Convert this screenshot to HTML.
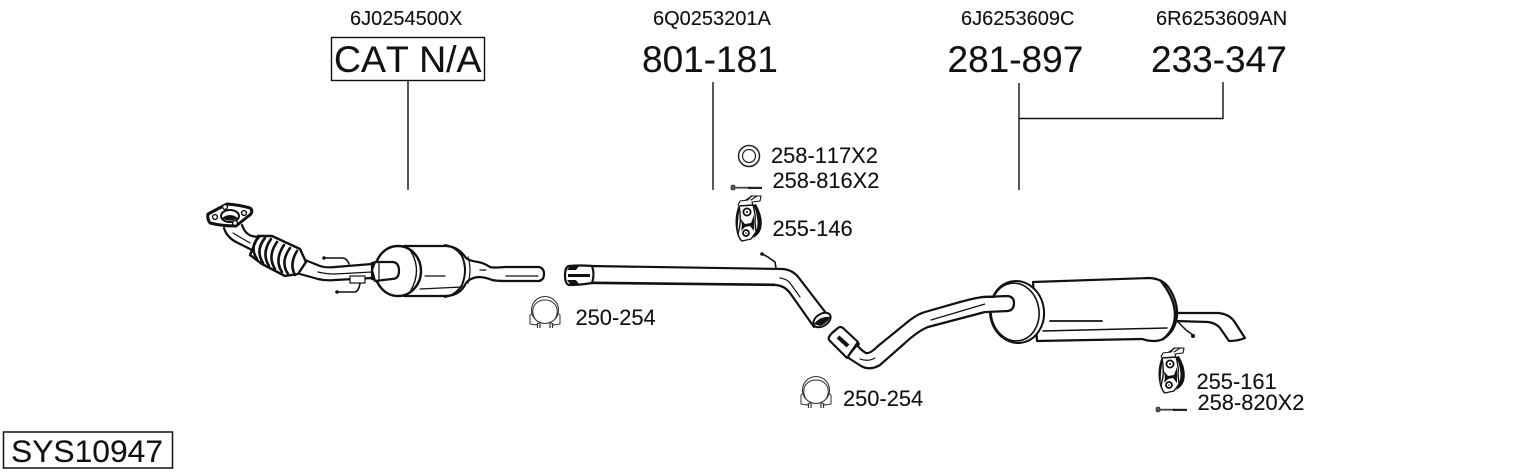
<!DOCTYPE html>
<html><head><meta charset="utf-8"><style>
html,body{margin:0;padding:0;background:#fff}
svg{display:block}
text{font-family:"Liberation Sans",sans-serif;fill:#111;font-kerning:none;stroke:#111;stroke-width:.12}
.l{font-size:20px}.b{font-size:37px}.m{font-size:21.850px}
.p{fill:none;stroke:#111;stroke-width:2.2;stroke-linecap:round;stroke-linejoin:round}
.t{fill:none;stroke:#111;stroke-width:1.2;stroke-linecap:round;stroke-linejoin:round}
.w{fill:#fff;stroke:#111;stroke-width:2.2;stroke-linejoin:round}
</style></head><body>
<svg width="1530" height="474" viewBox="0 0 1530 474" xmlns="http://www.w3.org/2000/svg">
<defs>
<g id="hanger">
<path class="t" d="M-10,-15 L-8,-19 L0,-20 L3,-24 L13,-24 L12,-19 L4,-18 L5,-14" style="stroke-width:1.1"/>
<path class="t" d="M-2,-20 L4,-24 M3,-20 L9,-24" style="stroke-width:1.1"/>
<path d="M-10,-13 Q-15,2 -10,17 Q-11,2 -8,-13Z" fill="#111"/>
<path d="M8,-16 Q16,-2 13,9 Q11,15 5,18 Q11,8 9,-2 Q8,-10 5,-15Z" fill="#111"/>
<path class="w" style="stroke-width:1.4" d="M-9,-14 L5,-15 Q8,-4 7,2 L8,12 L3,19 L-6,21 Q-9,19 -10,13 Q-6,2 -9,-14Z"/>
<path d="M-8,-2 L-3,4 L3,3 L6,-5 L6,11 L2,6 L-3,7 L-7,11 Q-5,4 -8,-2Z" fill="#111"/>
<circle cx="-1" cy="-8" r="3.600" fill="#fff" stroke="#111" stroke-width="1.800"/>
<circle cx="-1" cy="-8" r="1" fill="#111"/>
<circle cx="-2" cy="13" r="3" fill="#fff" stroke="#111" stroke-width="1.800"/>
<circle cx="-2" cy="13" r=".8" fill="#111"/>
</g>
<g id="clamp">
<circle cx="0" cy="-1" r="13.500" fill="none" stroke="#333" stroke-width="1.100"/>
<path class="t" d="M-10,8 Q-13.500,2 -11.500,-4 Q-8,-11 0,-11 Q8,-11 11.500,-4 Q13.500,2 10,8" style="stroke:#333;stroke-width:1"/>
<path class="t" d="M-12,2 L-15,4 L-15,13 L-9,14 L-5,11 M12,2 L15,4 L15,13 L9,14 L5,11" style="stroke:#333;stroke-width:1"/>
<path d="M-7.500,12 V17 M-5,12 V17 M5,12 V17 M7.500,12 V17" stroke="#333" stroke-width="1.200"/>
</g>
<g id="bolt">
<rect x="1" y="-2.500" width="4" height="5" rx="1.500" fill="#555" stroke="#222" stroke-width=".6"/>
<line x1="5" y1=".2" x2="20" y2=".2" stroke="#444" stroke-width="1.800"/>
<line x1="18" y1=".4" x2="32" y2=".4" stroke="#222" stroke-width="2.200"/>
</g>
</defs>

<text class="l" x="350" y="25">6J0254500X</text>
<text class="l" x="653" y="25">6Q0253201A</text>
<text class="l" x="961" y="25">6J6253609C</text>
<text class="l" x="1156" y="25">6R6253609AN</text>

<rect x="331.500" y="37.500" width="153" height="43" fill="none" stroke="#111" stroke-width="1.400"/>
<text class="b" x="334" y="72" style="font-size:37.400px">CAT N/A</text>
<text class="b" x="642" y="72">801-181</text>
<text class="b" x="947.500" y="72">281-897</text>
<text class="b" x="1151" y="72">233-347</text>

<g stroke="#111" stroke-width="1.400" fill="none">
<path d="M408,81V190M713,82V190M1019,83V190M1019,118.500H1223V82"/>
</g>

<!-- catalytic converter assembly -->
<path class="p" d="M224,228 Q227,238 238,243 L254,251 M242,225 Q245,234 252,236 L262,238"/>
<path class="t" d="M233,233 L250,243"/>
<path class="w" d="M208,214 L227,204 Q240,205 250,208 Q253,210 251,214 L236,226 Q222,226 210,223 Q207,219 208,214Z" style="stroke-width:3"/>
<ellipse cx="230" cy="216" rx="9" ry="6" fill="#fff" stroke="#111" stroke-width="2"/>
<path d="M222,218 Q230,212 238,218 Q230,223 222,218Z" fill="#111"/>
<g fill="#fff" stroke="#111" stroke-width="1.400"><circle cx="225" cy="207" r="2.400"/><circle cx="244" cy="213" r="2.400"/><circle cx="215" cy="217" r="2.400"/><circle cx="235" cy="223" r="2.400"/></g>
<path d="M258,236 L272,236 L300,249 L306,262 L298,274 L285,276 L262,264 L250,255Z" fill="#fff" stroke="#111" stroke-width="2.400" stroke-linejoin="round"/>
<g class="p" style="stroke-width:2.600">
<path d="M259,237 Q249,247 257,259"/>
<path d="M265,238 Q255,250 263,263"/>
<path d="M271,239 Q261,253 269,266"/>
<path d="M277,242 Q267,256 275,269"/>
<path d="M284,245 Q274,260 282,272"/>
<path d="M290,248 Q280,262 288,274"/>
<path d="M297,251 Q289,264 295,275"/>
</g>
<path class="p" d="M305,260 L320,266 Q326,268 335,267 L372,264 M300,274 L318,279 Q326,281 335,280 L372,278"/>
<path class="t" d="M318,272 Q326,274 335,274 L372,272"/>
<path class="p" d="M324,258 H342 Q347,258 349,264 M337,292 H355 Q359,291 360,283" style="stroke-width:1.600"/>
<circle cx="324" cy="258" r="1.800" fill="#111"/><circle cx="337" cy="292" r="1.800" fill="#111"/>
<rect x="350" y="276" width="15" height="7" fill="#fff" stroke="#111" stroke-width="1.200"/>
<path class="w" d="M372,263 L378,262 L378,280 L372,279Z"/>
<path class="w" d="M404,246 L445,246 Q458,246 466,258 Q470,261 478,262 Q484,263 490,267 Q494,268 505,267 L539,267 Q544,268 544,274 Q544,280 539,281 L505,281 Q497,281 492,280 Q485,277 478,277 Q470,278 466,283 Q460,296 445,296 L404,296Z"/>
<path d="M444,245 Q455,246 462,256 Q468,270 462,285 Q455,296 444,297" fill="none" stroke="#111" stroke-width="2"/>
<path class="t" d="M468,257 Q472,270 468,283 M425,276 H445 M420,289 L462,287 M506,276 H538 M480,270 H486"/>
<ellipse cx="398" cy="271" rx="23" ry="25" fill="#fff" stroke="#111" stroke-width="2.400"/>
<path d="M410,250 Q423,270 410,292" fill="none" stroke="#111" stroke-width="1.400"/>
<path class="w" d="M375,262 H392 Q399,262 399,271 Q399,279 392,279 L375,281 L372,270Z"/>
<path class="t" d="M379,262 V281"/>

<!-- clamps, hardware -->
<use href="#clamp" x="545" y="311"/>
<use href="#clamp" x="816" y="391"/>
<circle cx="749" cy="156" r="10.500" fill="none" stroke="#222" stroke-width="1.500"/>
<circle cx="749" cy="156" r="6.500" fill="none" stroke="#222" stroke-width="1.200"/>
<use href="#bolt" x="730" y="187.500"/>
<use href="#bolt" x="1155" y="409.500"/>
<use href="#hanger" x="748" y="220"/>
<use href="#hanger" x="1171" y="372"/>

<!-- middle pipe -->
<path class="p" d="M762,254 L768,257 L775,262 L776,268" style="stroke-width:1.600"/>
<circle cx="762" cy="254" r="1.800" fill="#111"/>
<path class="w" d="M590,266 L783,269 Q793,270 799,278 L829,317 L814,327 L790,293 Q785,286 776,285 L590,283Z"/>
<path class="t" d="M780,278 Q787,279 790,283 L800,297"/>
<path d="M593,282.500 L775,284.500" stroke="#111" stroke-width="2"/>
<ellipse cx="822" cy="320" rx="9.500" ry="6" transform="rotate(-33 822 320)" fill="#fff" stroke="#111" stroke-width="2"/>
<path d="M814,324 Q820,316 830,317 Q828,323 820,326Z" fill="#111"/>
<path class="w" d="M569,266 Q565,267 565,275 Q565,284 569,285 Q580,285 592,283 Q595,274 592,266 Q580,265 569,266Z"/>
<path d="M567,270 H576 L579,266 H570Z M567,280 H576 L579,284 H570Z M568,274 H590 V277 H568Z" fill="#111"/>

<!-- second section pipe and muffler -->
<path class="w" d="M1012,296 L983,297 Q975,298 960,302 L925,312 Q918,314 910,320 L878,346 Q870,354 866,353 Q862,351 857,345 L847,357 L861,366 Q870,371 880,365 L905,343 Q918,331 928,327 L985,312 L1010,310 Q1014,303 1012,296Z"/>
<path class="t" d="M860,359 Q868,362 875,358 M931,320 L985,304"/>
<path class="w" d="M829,337 Q830,335 832,333 L838,328 Q840,326 843,328 L858,342 L847,358 L830,341 Q828,339 829,337Z"/>
<path d="M838,337 L848,346" stroke="#111" stroke-width="4"/>
<path class="p" d="M859,344 Q852,349 848,357"/>

<path class="w" d="M1033,282 L1150,278 Q1163,279 1169,288 Q1178,302 1177,316 Q1175,332 1163,339 Q1155,343 1142,339 L1037,341Z"/>
<path d="M1160,280 Q1175,298 1175,315 Q1175,330 1162,340" fill="none" stroke="#111" stroke-width="2.400"/>
<path class="t" d="M1050,321 L1102,321" style="stroke-width:1.800"/>
<path class="p" d="M1043,331 L1167,328" style="stroke-width:1.500"/>
<ellipse cx="1017" cy="312" rx="27" ry="31" transform="rotate(-8 1017 312)" fill="#fff" stroke="#111" stroke-width="2"/>
<ellipse cx="1015" cy="312" rx="24" ry="29" transform="rotate(-8 1015 312)" fill="none" stroke="#111" stroke-width="1.600"/>
<path style="fill:#fff;stroke:none" d="M985,298 H1008 V311 H985Z"/>
<path class="p" d="M983,297 L1008,296 Q1014,297 1014,303 Q1014,310 1008,311 L987,312"/>
<path class="p" d="M1178,313 L1218,313 Q1229,314 1234,321 L1245,338 Q1238,341 1229,341 L1220,328 Q1216,323 1208,322 L1175,321"/>
<path class="p" d="M1178,322 L1186,330 L1193,335" style="stroke-width:1.500"/>
<circle cx="1193" cy="336" r="2" fill="#111"/>

<text class="m" x="771" y="163">258-117X2</text>
<text class="m" x="772.500" y="188">258-816X2</text>
<text class="m" x="772.500" y="236">255-146</text>
<text class="m" x="575.500" y="325">250-254</text>
<text class="m" x="843" y="406">250-254</text>
<text class="m" x="1196.500" y="389">255-161</text>
<text class="m" x="1197.500" y="410">258-820X2</text>

<rect x="3.500" y="432" width="169" height="36" fill="none" stroke="#111" stroke-width="1.500"/>
<text x="11" y="462" style="font-size:31.800px">SYS10947</text>
</svg>
</body></html>
